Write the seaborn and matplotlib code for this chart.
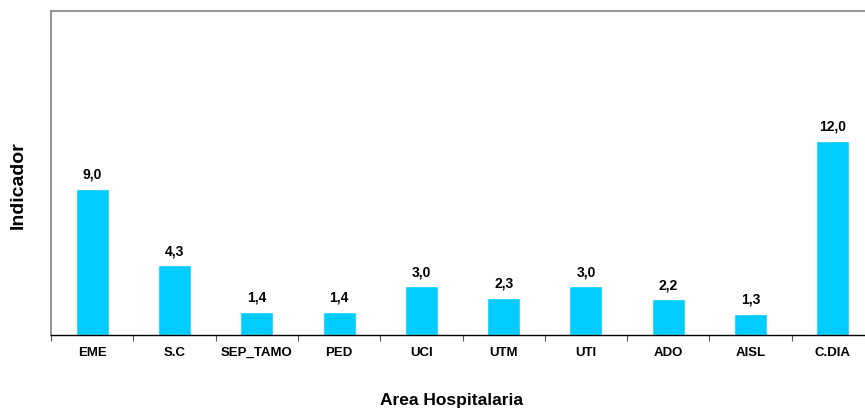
import pandas as pd
import matplotlib.pyplot as plt
import seaborn as sns
from matplotlib.ticker import FixedLocator, NullFormatter

areas = ['EME', 'S.C', 'SEP_TAMO', 'PED', 'UCI', 'UTM', 'UTI', 'ADO', 'AISL', 'C.DIA']
valores = [9.0, 4.3, 1.4, 1.4, 3.0, 2.3, 3.0, 2.2, 1.3, 12.0]

data = pd.DataFrame({'Area': areas, 'Indicador': valores})

sns.set_style('white')
plt.rcParams['font.family'] = ['Liberation Sans', 'DejaVu Sans']
plt.rcParams['text.color'] = 'black'
plt.rcParams['axes.labelcolor'] = 'black'
plt.rcParams['xtick.color'] = 'black'

fig = plt.figure(figsize=(8.65, 4.10), dpi=100)
ax = fig.add_axes([51 / 865, 1 - 336 / 410, 823 / 865, 324 / 410])

sns.barplot(x='Area', y='Indicador', data=data, color='#00CCFF',
            width=0.4, saturation=1, ax=ax)

ax.set_ylim(0, 20)
ax.set_xlim(-0.5, len(areas) - 0.5)
ax.set_yticks([])

for i, v in enumerate(valores):
    ax.annotate(f'{v:.1f}'.replace('.', ','), (i, v), xytext=(0, 6),
                textcoords='offset points', ha='center', va='bottom',
                fontsize=10, fontweight='bold')

# ticks at the category boundaries, labels at centres
ax.xaxis.set_major_locator(FixedLocator([i - 0.5 for i in range(len(areas) + 1)]))
ax.xaxis.set_major_formatter(NullFormatter())
ax.xaxis.set_minor_locator(FixedLocator(range(len(areas))))
ax.set_xticklabels(areas, minor=True, fontsize=9.5, fontweight='bold')
ax.tick_params(axis='x', which='major', direction='out', length=4, width=0.8,
               color='#555555', bottom=True)
ax.tick_params(axis='x', which='minor', length=0, pad=8)

for side in ['top', 'left', 'right']:
    ax.spines[side].set_color('#808080')
    ax.spines[side].set_linewidth(1.2)
ax.spines['bottom'].set_color('black')
ax.spines['bottom'].set_linewidth(1)

ax.set_xlabel('Area Hospitalaria', fontsize=12.5, fontweight='bold')
ax.xaxis.set_label_coords((451 - 51) / 823, -(401 - 336) / 324)
ax.set_ylabel('Indicador', fontsize=14, fontweight='bold')
ax.yaxis.set_label_coords(-(33) / 823, (336 - 185) / 324)
ax.xaxis.label.set_va('center')
ax.yaxis.label.set_va('center')

fig.savefig('out.png', dpi=100)
